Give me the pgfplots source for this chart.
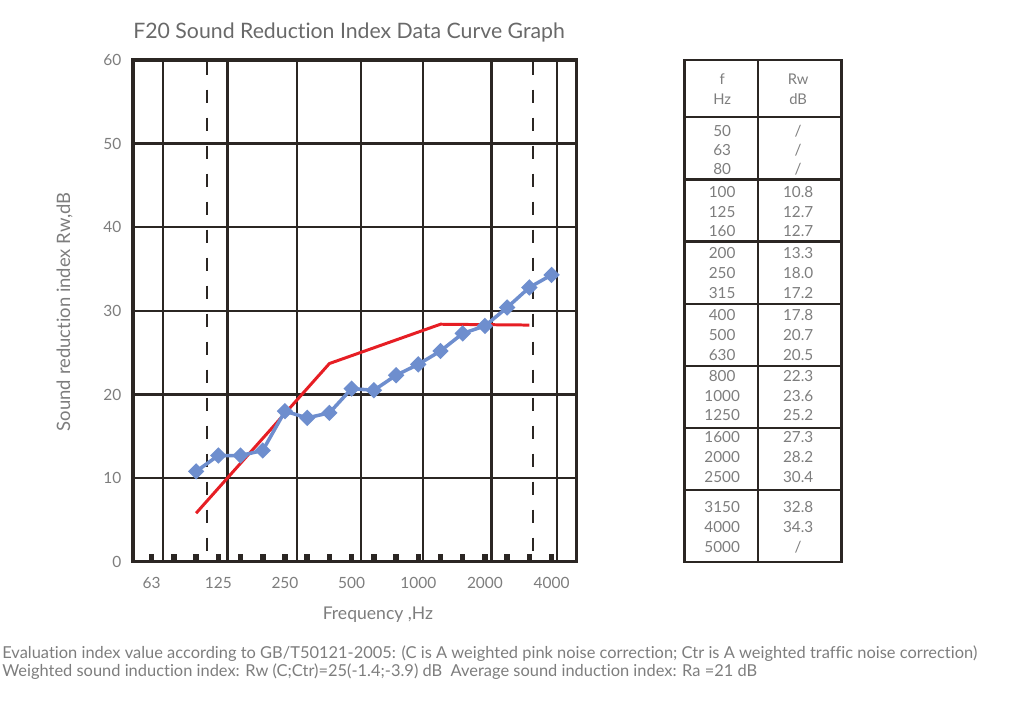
\documentclass[border=0pt]{standalone}
\usepackage{fontspec}
\setmainfont{Lato}[Ligatures=NoCommon]
\usepackage{pgfplots}
\usepackage{pgfplotstable}
\pgfplotsset{compat=1.18}

\definecolor{frame}{RGB}{43,38,35}
\definecolor{txt}{RGB}{125,125,125}
\definecolor{titlec}{RGB}{105,105,105}
\definecolor{rwblue}{RGB}{110,142,206}
\definecolor{refred}{RGB}{230,30,36}

% x = one-third octave band index: 63 Hz = 0, 80 = 1, 100 = 2, ... 4000 Hz = 18
\pgfplotstableread{
idx rw
2  10.8
3  12.7
4  12.7
5  13.3
6  18.0
7  17.2
8  17.8
9  20.7
10 20.5
11 22.3
12 23.6
13 25.2
14 27.3
15 28.2
16 30.4
17 32.8
18 34.3
}\measured

% shifted reference curve
\pgfplotstableread{
idx rw
2  5.8
8  23.7
13 28.4
17 28.3
}\refcurve

\newcommand\tickfont{\fontsize{8.8}{10}\selectfont}
\newcommand\tabfont{\fontsize{8.7}{10}\selectfont}
\newcommand\headfont{\fontsize{8.4}{10}\selectfont}
\newcommand\notefont{\fontsize{9.35}{11}\selectfont}

\begin{document}
\begin{tikzpicture}
\useasboundingbox (0,0) rectangle (20.48cm,-14.44cm);
\begin{axis}[
  at={(2.66cm,-11.234cm)}, anchor=south west,
  scale only axis, width=8.874cm, height=10.034cm,
  xmin=-0.84, xmax=19.13,
  ymin=0, ymax=60,
  axis line style={frame, line width=1.85pt},
  xtick={0,...,18},
  xticklabels={63,,,125,,,250,,,500,,,1000,,,2000,,,4000},
  ytick={0,10,...,60},
  tick align=inside, xtick pos=bottom, ytick pos=left,
  major tick length=0.16cm,
  xtick style={frame, line width=0.11cm},
  ytick style={draw=none},
  ymajorgrids,
  grid style={frame, line width=1.42pt},
  extra x ticks={0.52,3.42,6.53,9.42,12.22,15.30,18.25},
  extra x tick labels={{},{},{},{},{},{},{}},
  extra x tick style={grid=major, major tick length=0pt},
  /pgf/number format/assume math mode=true,
  ticklabel style={font=\tickfont, text=txt},
  xticklabel style={anchor=north, inner sep=0pt, yshift=-0.3cm},
  yticklabel style={anchor=east, inner sep=0pt, xshift=-0.226cm},
  title={F20 Sound Reduction Index Data Curve Graph},
  title style={at={(axis description cs:0,1)}, anchor=base west,
    yshift=0.22cm, inner sep=0pt, font=\fontsize{12.1}{14}\selectfont, text=titlec},
  xlabel={Frequency ,Hz},
  xlabel style={at={(axis description cs:0.552,-0.105)}, anchor=center,
    font=\fontsize{10}{12}\selectfont, text=txt},
  ylabel={Sound reduction index Rw,dB},
  ylabel style={at={(axis description cs:-0.154,0.498)}, anchor=center,
    font=\fontsize{10.5}{12}\selectfont, text=txt},
]
\addplot[frame, line width=1.1pt, dash pattern=on 0.26cm off 0.3cm]
  coordinates {(2.475,59.8) (2.475,0.6)};
\addplot[frame, line width=1.1pt, dash pattern=on 0.26cm off 0.3cm]
  coordinates {(17.17,59.8) (17.17,0.6)};
\addplot[refred, line width=1.7pt] table[x=idx, y=rw] {\refcurve};
\addplot[rwblue, line width=2pt, mark=square*, mark size=2.3pt,
  mark options={rotate=45}] table[x=idx, y=rw] {\measured};
\end{axis}

% value table on the right, in pixel units
\begin{scope}[x=0.02cm, y=-0.02cm]
\draw[frame, line width=0.055cm] (684,60) rectangle (841,562);
\draw[frame, line width=0.045cm] (757.5,60) -- (757.5,562);
\foreach \yy in {117,179.5,241.5,304,366,428,490}
  \draw[frame, line width=0.05cm] (684,\yy) -- (841,\yy);
\begin{scope}[every node/.style={text=txt, inner sep=0pt, anchor=center,
    text height=0.72em, text depth=0pt}]
\node[font=\headfont] at (722,78) {f};
\node[font=\headfont] at (722,98) {Hz};
\node[font=\headfont] at (798,78) {Rw};
\node[font=\headfont] at (798,98) {dB};
\foreach \f/\r/\yy in {50/\slash/130, 63/\slash/149.5, 80/\slash/168.5,
    100/10.8/191, 125/12.7/211, 160/12.7/230.5,
    200/13.3/252.5, 250/18.0/272.5, 315/17.2/292.5,
    400/17.8/314.5, 500/20.7/334.5, 630/20.5/354,
    800/22.3/375.5, 1000/23.6/395, 1250/25.2/414.5,
    1600/27.3/436.5, 2000/28.2/456.5, 2500/30.4/476.5,
    3150/32.8/506.5, 4000/34.3/526.5, 5000/\slash/546} {
  \node[font=\tabfont] at (722,\yy) {\f};
  \node[font=\tabfont] at (798,\yy) {\r};
}
\end{scope}
\node[anchor=base west, inner sep=0pt, font=\notefont, text=txt] at (2,658.3)
  {Evaluation index value according to GB/T50121-2005: (C is A weighted pink noise correction; Ctr is A weighted traffic noise correction)};
\node[anchor=base west, inner sep=0pt, font=\notefont, text=txt] at (2,676.7)
  {Weighted sound induction index: Rw (C;Ctr)=25(-1.4;-3.9) dB\ \ Average sound induction index: Ra =21 dB};
\end{scope}
\end{tikzpicture}
\end{document}
